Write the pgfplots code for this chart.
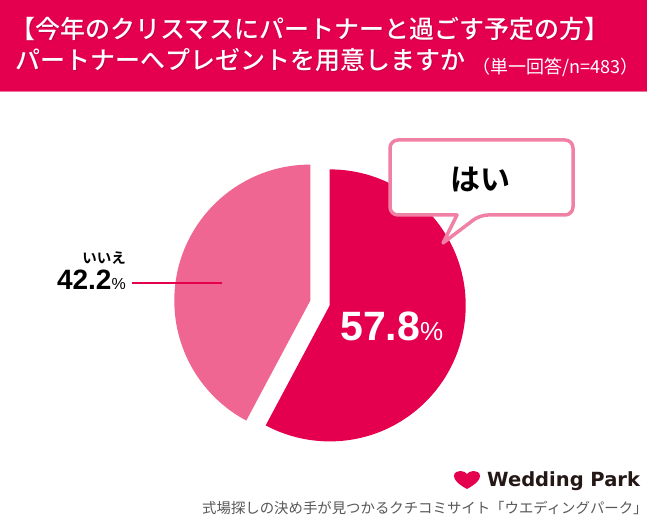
\documentclass[border=0pt]{standalone}
\usepackage{pgfplots}
\pgfplotsset{compat=1.18}
\usepackage{fontspec}
\setmainfont{Liberation Sans}
\newfontfamily\jp{Noto Sans CJK JP}[BoldFont={Noto Sans CJK JP Bold}]
\newfontfamily\jpm{Noto Sans CJK JP Medium}
\newfontfamily\logofont{DejaVu Sans Bold}
\definecolor{crim}{RGB}{228,0,79}
\definecolor{lpink}{RGB}{238,102,145}
\definecolor{bpink}{RGB}{241,128,165}
\definecolor{logoink}{RGB}{35,24,21}
\definecolor{foot}{RGB}{89,87,87}
\def\valYes{57.8}
\def\valNo{42.2}
\begin{document}
\begin{tikzpicture}
\begin{axis}[x=1bp, y=1bp, xmin=0, xmax=650, ymin=0, ymax=525,
  scale only axis, hide axis, clip=false]
\fill[white] (0,0) rectangle (650,525);
% banner
\fill[crim] (0,434) rectangle (647,525);
\fill[crim!55!white] (0,432.5) rectangle (647,434);
\node[anchor=west, inner sep=0, text=crim!60!black, opacity=0.35, font=\jpm\fontsize{25bp}{30bp}\selectfont] at (11,495) {【今年のクリスマスにパートナーと過ごす予定の方】};
\node[anchor=west, inner sep=0, text=crim!60!black, opacity=0.35, font=\jpm\fontsize{25bp}{30bp}\selectfont] at (16,464) {パートナーへプレゼントを用意しますか};
\node[anchor=west, inner sep=0, text=white, font=\jpm\fontsize{25bp}{30bp}\selectfont] at (10,496) {【今年のクリスマスにパートナーと過ごす予定の方】};
\node[anchor=west, inner sep=0, text=white, font=\jpm\fontsize{25bp}{30bp}\selectfont] at (15,465) {パートナーへプレゼントを用意しますか};
\node[anchor=west, inner sep=0, text=white, font=\jp\fontsize{18bp}{20bp}\selectfont] at (472,458) {（単一回答/n=483）};
% pie
\pgfmathsetmacro{\angYes}{90-\valYes*3.6}
\pgfmathsetmacro{\angNo}{90+\valNo*3.6}
\fill[crim] (329.7,219.6) -- ++(90:136bp) arc[start angle=90, end angle=\angYes, radius=136bp] -- cycle;
\fill[lpink] (310.3,224.4) -- ++(90:136bp) arc[start angle=90, end angle=\angNo, radius=136bp] -- cycle;
% labels
\node[anchor=base west, inner sep=0, text=white] at (340,184) {\fontsize{41bp}{44bp}\selectfont\bfseries 57.8\fontsize{26bp}{28bp}\selectfont\mdseries\%};
\node[anchor=base east, inner sep=0, text=black] at (126,235) {\fontsize{28bp}{30bp}\selectfont\bfseries 42.2\fontsize{16bp}{20bp}\selectfont\mdseries\%};
\node[anchor=east, inner sep=0, text=black, font=\jp\bfseries\fontsize{14.5bp}{16bp}\selectfont] at (126,267) {いいえ};
\draw[crim, line width=1.3bp] (132,242) -- (222,242);
% callout
\draw[bpink, fill=white, line width=3.5bp, line join=round, rounded corners=8bp]
  (390,385) -- (573,385) -- (573,310) -- (480,310) [sharp corners] -- (443,282) -- (457,310) [rounded corners=8bp] -- (390,310) -- cycle;
\node[inner sep=0, text=black, font=\jp\bfseries\fontsize{30bp}{34bp}\selectfont] at (480,345) {はい};
% logo
\fill[crim] (467,36) .. controls (458,41) and (454,45) .. (454,49) .. controls (454,53) and (458,54) .. (460.5,54) .. controls (463.5,54) and (466,52.5) .. (467,51) .. controls (468,52.5) and (470.5,54) .. (473.5,54) .. controls (476,54) and (480,53) .. (480,49) .. controls (480,45) and (476,41) .. (467,36) -- cycle;
\node[anchor=base west, inner sep=0, text=logoink, font=\logofont\fontsize{19.5bp}{22bp}\selectfont] at (487,38) {Wedding Park};
\node[anchor=west, inner sep=0, text=foot, font=\jp\fontsize{14.4bp}{16bp}\selectfont] at (202,17) {式場探しの決め手が見つかるクチコミサイト「ウエディングパーク」};
\end{axis}
\end{tikzpicture}
\end{document}
